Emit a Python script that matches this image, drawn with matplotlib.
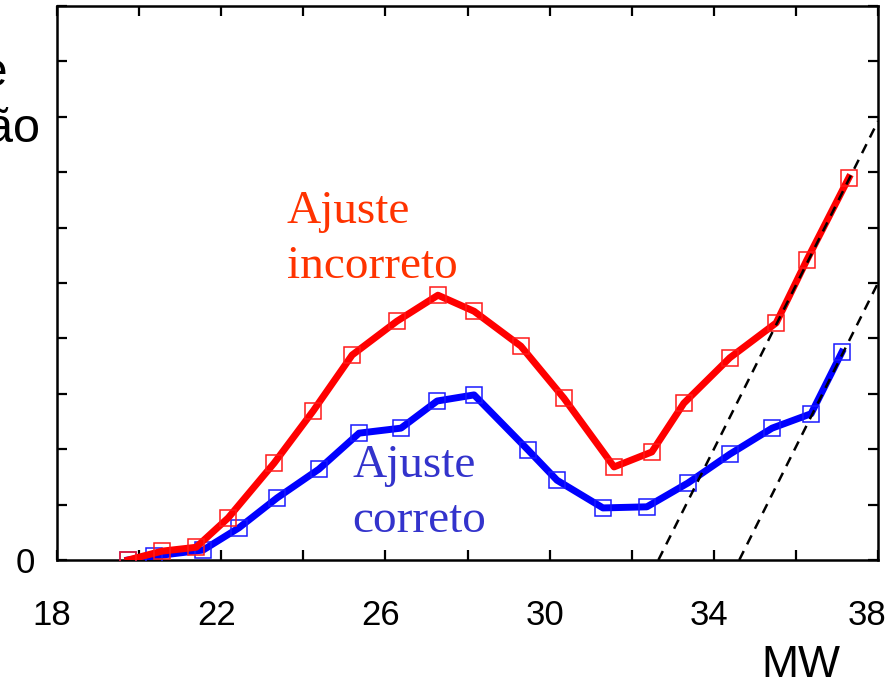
import numpy as np
import matplotlib.pyplot as plt
import matplotlib.transforms as mtransforms

# fit curves
mw_wrong = [19.73, 20.56, 21.39, 22.17, 23.29, 24.24, 25.19, 26.28, 27.28, 28.16,
            29.30, 30.35, 31.57, 32.49, 33.27, 34.39, 35.52, 36.27, 37.29]
val_wrong = [0.0, 0.16, 0.23, 0.76, 1.75, 2.69, 3.70, 4.31, 4.78, 4.49,
             3.86, 2.92, 1.68, 1.95, 2.83, 3.65, 4.28, 5.42, 6.90]

mw_right = [19.73, 20.36, 21.56, 22.43, 23.36, 24.38, 25.36, 26.38, 27.26, 28.16,
            29.47, 30.18, 31.30, 32.37, 33.37, 34.39, 35.42, 36.37, 37.12]
val_right = [0.0, 0.07, 0.18, 0.58, 1.12, 1.64, 2.29, 2.38, 2.87, 2.98,
             1.99, 1.44, 0.94, 0.96, 1.39, 1.91, 2.38, 2.64, 3.75]

# dashed guide lines (start, end)
guide1_x = [32.65, 38.0]
guide1_y = [0.0, 7.92]
guide2_x = [34.62, 38.0]
guide2_y = [0.0, 5.0]

xticks = [18, 20, 22, 24, 26, 28, 30, 32, 34, 36, 38]
xticklabels = ['18', '', '22', '', '26', '', '30', '', '34', '', '38']
yticks = list(range(0, 11))
yticklabels = ['0'] + [''] * 10

fig = plt.figure(figsize=(8.95, 6.86), dpi=100)
ax = fig.add_axes([57 / 895, 126 / 686, 821 / 895, 554 / 686])

ax.plot(mw_right, val_right, color='#0000ff', lw=5, marker='s', ms=11,
        mfc='none', mec='#1a1aff', mew=1.1, zorder=3)
ax.plot(mw_wrong, val_wrong, color='#ff0000', lw=5, marker='s', ms=11,
        mfc='none', mec='#ff1a1a', mew=1.1, zorder=4)
ax.plot(guide1_x, guide1_y, color='black', lw=1.8, dashes=(4, 3), zorder=5)
ax.plot(guide2_x, guide2_y, color='black', lw=1.8, dashes=(4, 3), zorder=5)

ax.text(23.60, 5.09, 'Ajuste\nincorreto', color='#ff3300', fontsize=34,
        family='Liberation Serif', va='baseline', ha='left', linespacing=1.4)
ax.text(25.19, 0.50, 'Ajuste\ncorreto', color='#3333cc', fontsize=34,
        family='Liberation Serif', va='baseline', ha='left', linespacing=1.4)

ax.set_xlim(18, 38)
ax.set_ylim(0, 10)
ax.set_xticks(xticks)
ax.set_xticklabels(xticklabels)
ax.set_yticks(yticks)
ax.set_yticklabels(yticklabels)
ax.tick_params(direction='in', length=7, width=1.6, top=True, right=True,
               labelsize=25, labelfontfamily='Liberation Sans')
ax.tick_params(axis='x', pad=28)
ax.tick_params(axis='y', pad=16)
for s in ax.spines.values():
    s.set_linewidth(1.8)

labs = ax.get_xticklabels()
for i, lab in enumerate(labs):
    dx = -11 if i == len(labs) - 1 else -5
    shift = mtransforms.ScaledTranslation(dx / 100, 0, fig.dpi_scale_trans)
    lab.set_transform(lab.get_transform() + shift)

fig.text(801 / 895, 1 - 677 / 686, 'MW', fontsize=32, family='Liberation Sans',
         ha='center', va='baseline')
fig.text(40 / 895, 1 - 142 / 686, 'Taxa de\nformação', fontsize=35,
         family='Liberation Sans', ha='right', va='baseline',
         multialignment='left', linespacing=1.3)

fig.savefig('out.png', dpi=100)
